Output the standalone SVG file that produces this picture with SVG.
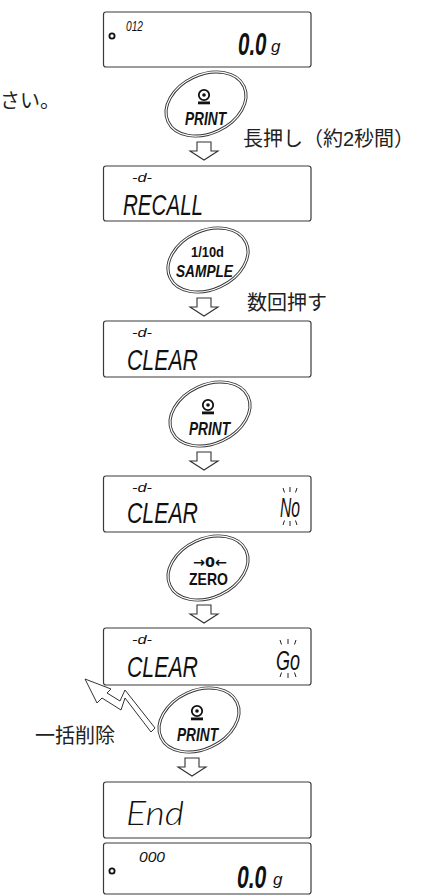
<svg xmlns="http://www.w3.org/2000/svg" width="422" height="895" viewBox="0 0 422 895">
<style>
.disp{fill:#fff;stroke:#3a3a3a;stroke-width:1.2}
.lcd{font-family:"Liberation Sans",Arial,sans-serif;font-style:italic;fill:#111}
.thin{font-family:"Lato","Liberation Sans",sans-serif;font-weight:300;font-style:italic;fill:#111}
.jp{font-family:"Liberation Sans","Noto Sans CJK JP",sans-serif;font-size:20px;fill:#222}
.ov{fill:none;stroke:#333;stroke-width:0.9}
.btn{font-family:"Liberation Sans",Arial,sans-serif;font-weight:bold;fill:#111}
.arr{fill:#fff;stroke:#333;stroke-width:1.1}
.tick{stroke:#222;stroke-width:1}
.dot{fill:none;stroke:#111;stroke-width:1.8}
</style>
<defs>
<g id="oval">
<ellipse rx="43" ry="30.5" transform="rotate(-25)" class="ov"/>
<ellipse rx="40.8" ry="28.4" transform="rotate(-25)" class="ov"/>
</g>
<g id="prn">
<circle r="5.2" fill="none" stroke="#111" stroke-width="1.8"/>
<circle r="1.8" fill="#111"/>
<rect x="-6" y="6.5" width="12" height="2.8" fill="#111"/>
</g>
<path id="dn" d="M-7,0 h14 v9 h7 l-14,9 l-14,-9 h7 z" class="arr"/>
</defs>

<text class="jp" x="0" y="108">さい。</text>

<g id="disp1">
<rect class="disp" x="103.5" y="12" width="207.5" height="55" rx="2.5"/>
<circle class="dot" cx="112" cy="36" r="2.6"/>
<text class="lcd" x="126" y="31" font-size="14" textLength="17" lengthAdjust="spacingAndGlyphs">012</text>
<text class="lcd" font-weight="bold" transform="translate(238,55) scale(0.64,1)" font-size="32">0.0</text>
<text class="lcd" x="271" y="52" font-size="17" font-style="normal">g</text>
</g>

<g id="btn1">
<use href="#oval" x="206" y="104"/>
<use href="#prn" x="204" y="95"/>
<text class="btn" font-style="italic" x="185" y="125" font-size="19" textLength="41" lengthAdjust="spacingAndGlyphs">PRINT</text>
</g>
<text class="jp" x="243" y="146">長押し（約2秒間）</text>

<g id="disp2">
<rect class="disp" x="103.5" y="166" width="207.5" height="55" rx="2.5"/>
<text class="lcd" x="132" y="182" font-size="12" textLength="20" lengthAdjust="spacingAndGlyphs">-d-</text>
<text class="lcd" x="123" y="215" font-size="30" textLength="80" lengthAdjust="spacingAndGlyphs">RECALL</text>
</g>

<g id="btn2">
<use href="#oval" x="208" y="260"/>
<text class="btn" x="191" y="257" font-size="15" textLength="33" lengthAdjust="spacingAndGlyphs">1/10d</text>
<text class="btn" font-style="italic" x="176" y="277" font-size="17" textLength="57" lengthAdjust="spacingAndGlyphs">SAMPLE</text>
</g>
<text class="jp" x="247" y="310">数回押す</text>

<g id="disp3">
<rect class="disp" x="103.5" y="321" width="207.5" height="56" rx="2.5"/>
<text class="lcd" x="132" y="337" font-size="12" textLength="20" lengthAdjust="spacingAndGlyphs">-d-</text>
<text class="lcd" x="127" y="370" font-size="30" textLength="71" lengthAdjust="spacingAndGlyphs">CLEAR</text>
</g>

<g id="btn3">
<use href="#oval" x="210" y="414"/>
<use href="#prn" x="208" y="405"/>
<text class="btn" font-style="italic" x="189" y="435" font-size="19" textLength="41" lengthAdjust="spacingAndGlyphs">PRINT</text>
</g>

<g id="disp4">
<rect class="disp" x="103.5" y="476" width="207.5" height="56" rx="2.5"/>
<text class="lcd" x="132" y="492" font-size="12" textLength="20" lengthAdjust="spacingAndGlyphs">-d-</text>
<text class="lcd" x="127" y="523" font-size="30" textLength="71" lengthAdjust="spacingAndGlyphs">CLEAR</text>
<text class="lcd" x="280" y="517" font-size="27" textLength="20" lengthAdjust="spacingAndGlyphs">No</text>
<g class="tick">
<line x1="283" y1="488" x2="284.5" y2="492.5"/><line x1="290" y1="487" x2="290" y2="492"/><line x1="297" y1="488" x2="295.5" y2="492.5"/>
<line x1="283" y1="525" x2="284.5" y2="520.5"/><line x1="290" y1="521" x2="290" y2="526"/><line x1="297" y1="525" x2="295.5" y2="520.5"/>
</g>
</g>

<g id="btn4">
<use href="#oval" x="208" y="568"/>
<text x="193" y="567" font-family="'DejaVu Sans',sans-serif" font-weight="bold" font-size="14" fill="#111" textLength="34" lengthAdjust="spacingAndGlyphs">→0←</text>
<text class="btn" x="189" y="585" font-size="17" textLength="39" lengthAdjust="spacingAndGlyphs">ZERO</text>
</g>

<g id="disp5">
<rect class="disp" x="103.5" y="628" width="207.5" height="57" rx="2.5"/>
<text class="lcd" x="132" y="644" font-size="12" textLength="20" lengthAdjust="spacingAndGlyphs">-d-</text>
<text class="lcd" x="127" y="677" font-size="30" textLength="71" lengthAdjust="spacingAndGlyphs">CLEAR</text>
<text class="lcd" x="276" y="670" font-size="27" textLength="24" lengthAdjust="spacingAndGlyphs">Go</text>
<g class="tick">
<line x1="280" y1="640" x2="281.5" y2="644.5"/><line x1="288" y1="639" x2="288" y2="644"/><line x1="296" y1="640" x2="294.5" y2="644.5"/>
<line x1="280" y1="677" x2="281.5" y2="672.5"/><line x1="288" y1="673" x2="288" y2="678"/><line x1="296" y1="677" x2="294.5" y2="672.5"/>
</g>
</g>

<g id="lightning">
<polygon points="85,679 111,689 107,693 120,701 125,690 155,728 151,732 125,698 121,710 102,698 97,703" fill="#fff" stroke="#333" stroke-width="1" stroke-linejoin="miter"/>
</g>
<text class="jp" x="35" y="743">一括削除</text>

<g id="btn5">
<use href="#oval" x="199" y="720"/>
<use href="#prn" x="197" y="711"/>
<text class="btn" font-style="italic" x="177" y="741" font-size="19" textLength="41" lengthAdjust="spacingAndGlyphs">PRINT</text>
</g>

<g id="disp6">
<rect class="disp" x="103.5" y="782" width="207.5" height="56" rx="2.5"/>
<text class="thin" x="126" y="825" font-size="33" textLength="58" lengthAdjust="spacingAndGlyphs">End</text>
</g>

<g id="disp7">
<rect class="disp" x="103.5" y="843" width="207.5" height="51" rx="2.5"/>
<circle class="dot" cx="112" cy="871" r="2.6"/>
<text class="lcd" x="139" y="862" font-size="14" textLength="26" lengthAdjust="spacingAndGlyphs">000</text>
<text class="lcd" font-weight="bold" transform="translate(237,888) scale(0.66,1)" font-size="32">0.0</text>
<text class="lcd" x="273" y="885" font-size="17" font-style="normal">g</text>
</g>

<g id="connectors">
<use href="#dn" x="204" y="142"/>
<use href="#dn" x="204" y="298"/>
<use href="#dn" x="204" y="452"/>
<use href="#dn" x="204" y="605"/>
<use href="#dn" x="192" y="758"/>
</g>
</svg>
